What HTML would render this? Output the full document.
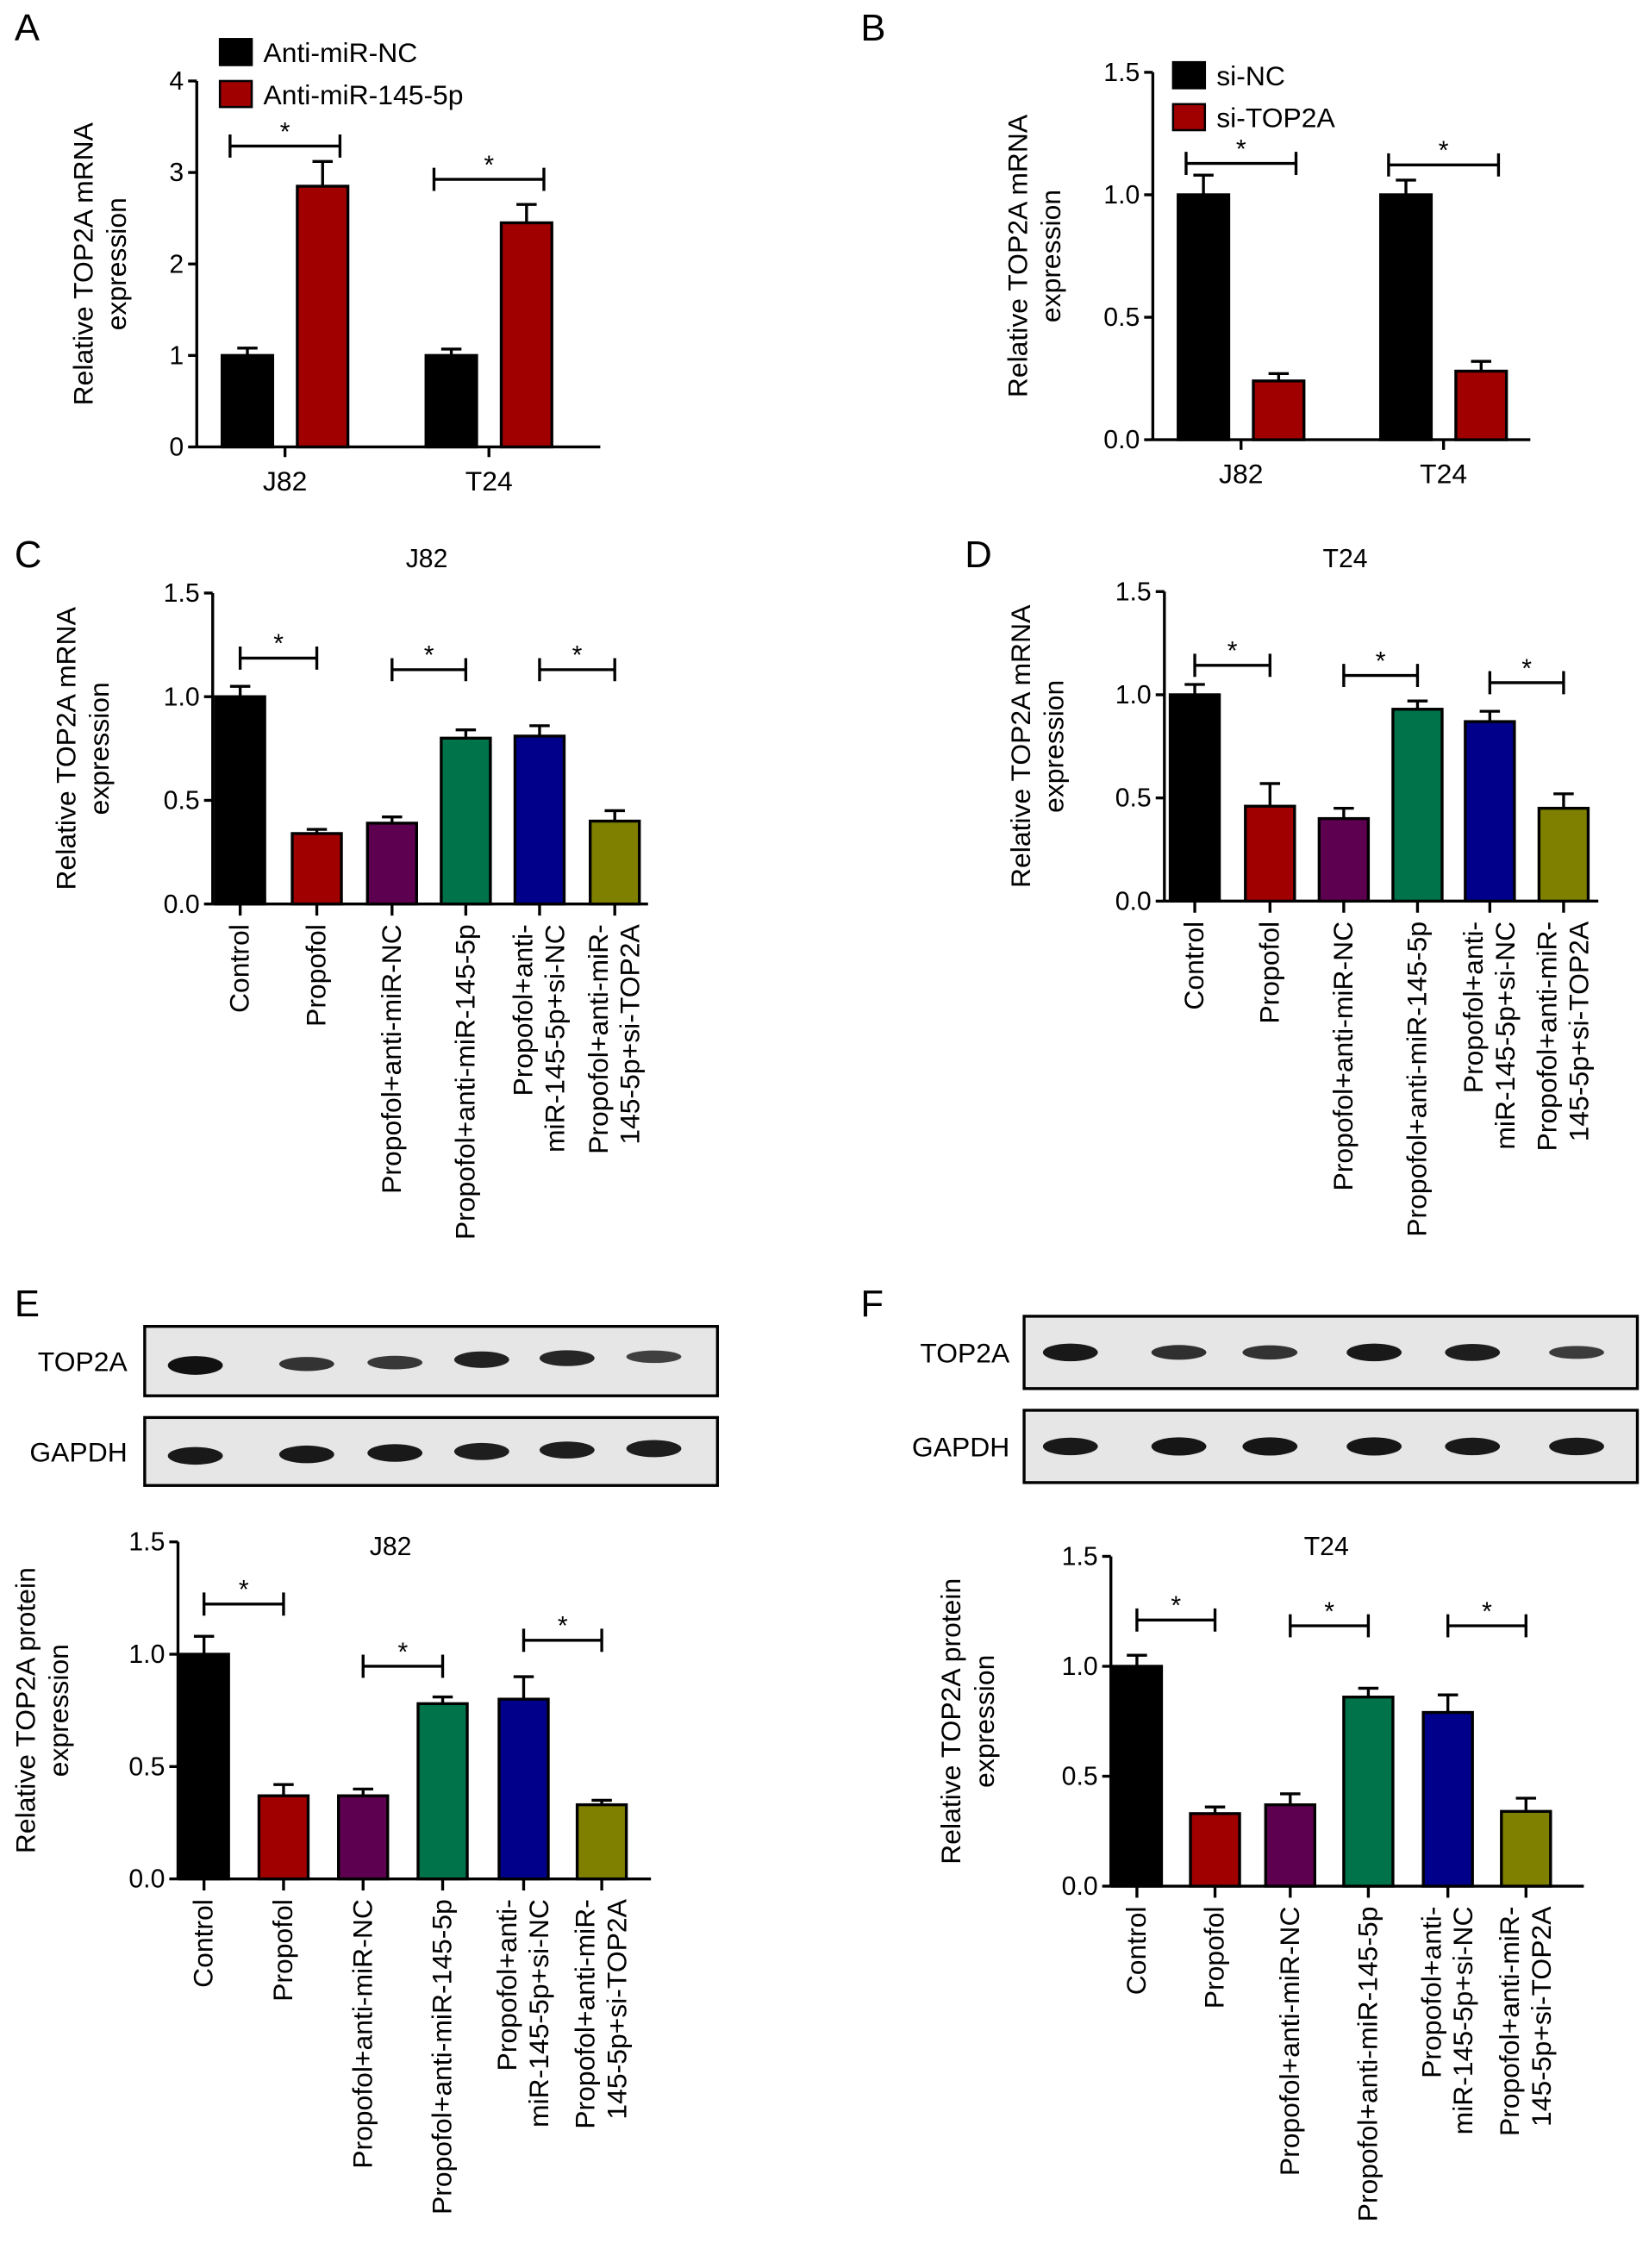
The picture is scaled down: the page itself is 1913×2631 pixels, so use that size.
<!DOCTYPE html>
<html><head><meta charset="utf-8"><style>
html,body{margin:0;padding:0;background:#fff}
svg{display:block;font-family:"Liberation Sans",Arial,sans-serif}
</style></head><body>
<svg id="fig" width="1913" height="2631" viewBox="0 0 1140 1568" xmlns="http://www.w3.org/2000/svg"></svg>
<script>
// ---- data ----
const catsAB = ["J82","T24"];
const aSeries = ["Anti-miR-NC","Anti-miR-145-5p"];
const aVals1 = [1.0,1.0], aVals2 = [2.85,2.45];
const aErr1 = [0.08,0.07], aErr2 = [0.27,0.2];
const aTicks = [0,1,2,3,4];
const bSeries = ["si-NC","si-TOP2A"];
const bVals1 = [1.0,1.0], bVals2 = [0.24,0.28];
const bErr1 = [0.08,0.06], bErr2 = [0.03,0.04];
const ticks15 = [0.0,0.5,1.0,1.5];
const groups = ["Control","Propofol","Propofol+anti-miR-NC","Propofol+anti-miR-145-5p","Propofol+anti-|miR-145-5p+si-NC","Propofol+anti-miR-|145-5p+si-TOP2A"];
const cVals = [1.0,0.34,0.39,0.80,0.81,0.40];
const cErr = [0.05,0.02,0.03,0.04,0.05,0.05];
const dVals = [1.0,0.46,0.40,0.93,0.87,0.45];
const dErr = [0.05,0.11,0.05,0.04,0.05,0.07];
const eVals = [1.0,0.37,0.37,0.78,0.80,0.33];
const eErr = [0.08,0.05,0.03,0.03,0.10,0.02];
const fVals = [1.0,0.33,0.37,0.86,0.79,0.34];
const fErr = [0.05,0.03,0.05,0.04,0.08,0.06];
const colors6 = ["#000000","#a00000","#5e0050","#00734a","#00008a","#7f7f00"];

const NS="http://www.w3.org/2000/svg";
const svg=document.getElementById('fig');
function el(tag,attrs,parent,txt){const e=document.createElementNS(NS,tag);for(const k in attrs)e.setAttribute(k,attrs[k]);if(txt!==undefined)e.textContent=txt;(parent||svg).appendChild(e);return e;}
function text(x,y,s,size,anchor,parent,rot){const t=el('text',{x:x,y:y,'font-size':size,'text-anchor':anchor||'middle',fill:'#000'},parent,s);if(rot)t.setAttribute('transform','rotate(-90 '+x+' '+y+')');return t;}

function axes(g,ax,y0,yTop,vmax,ticks,xEnd,fmt,ytitle,tx){
  const sy=v=>y0-(v/vmax)*(y0-yTop);
  const yl=el('line',{x1:ax,y1:y0,x2:ax,y2:yTop,stroke:'#000','stroke-width':2},g);
  
  const xl=el('line',{x1:ax,y1:y0,x2:xEnd,y2:y0,stroke:'#000','stroke-width':2},g);
  
  ticks.forEach(v=>{const y=sy(v);el('line',{x1:ax-6,y1:y,x2:ax,y2:y,stroke:'#000','stroke-width':2},g);
    const t=text(ax-9,y+6,fmt(v),18,'end',g);});
  const yt=el('text',{transform:'translate('+tx+','+((y0+yTop)/2)+') rotate(-90)','font-size':19,'text-anchor':'middle'},g);
  
  el('tspan',{x:0,dy:0},yt,ytitle);el('tspan',{x:0,dy:23},yt,'expression');
  return sy;
}
function bar(g,x,w,v,err,color,sy,y0,name){
  const r=el('rect',{x:x-w/2,y:sy(v),width:w,height:y0-sy(v),fill:color,stroke:'#000','stroke-width':2},g);
  
  const ye=sy(v+err);
  el('line',{x1:x,y1:sy(v),x2:x,y2:ye,stroke:'#000','stroke-width':2},g);
  el('line',{x1:x-7,y1:ye,x2:x+7,y2:ye,stroke:'#000','stroke-width':2},g);
}
function sig(g,x1,x2,y){
  el('path',{d:'M'+x1+' '+(y-8)+'V'+(y+8)+'M'+x1+' '+y+'H'+x2+'M'+x2+' '+(y-8)+'V'+(y+8),stroke:'#000','stroke-width':2,fill:'none'},g);
  const s=text((x1+x2)/2,y-4,'*',18,'middle',g);
}
function letter(x,y,s){const t=text(x,y,s,26,'start');}

function twoGroup(name,ax,y0,yTop,vmax,ticks,xEnd,fmt,centers,v1,v2,e1,e2,sigY,legX,legY,series,tx){
  const g=el('g',{});
  const sy=axes(g,ax,y0,yTop,vmax,ticks,xEnd,fmt,'Relative TOP2A mRNA',tx);
  centers.forEach((c,i)=>{
    bar(g,c-26,35,v1[i],e1[i],'#000',sy,y0,'bar-'+catsAB[i].toLowerCase()+'-control');
    bar(g,c+26,35,v2[i],e2[i],'#a00000',sy,y0,'bar-'+catsAB[i].toLowerCase()+'-treatment');
    el('line',{x1:c,y1:y0,x2:c,y2:y0+7,stroke:'#000','stroke-width':2},g);
    const t=text(c,y0+30,catsAB[i],19,'middle',g);
    sig(g,c-38,c+38,sigY[i]);
  });
  series.forEach((s,i)=>{
    const r=el('rect',{x:legX,y:legY+i*29-9,width:22,height:18,fill:i?'#a00000':'#000',stroke:'#000','stroke-width':1.5},g);
    
    const t=text(legX+30,legY+i*29+7,s,19,'start',g);
  });
}
letter(10,28,'A');letter(595,28,'B');
twoGroup('panel-a-chart',136,309,56,4,aTicks,415,v=>String(v),[197,338],aVals1,aVals2,aErr1,aErr2,[101,124],152,36,aSeries,64);
twoGroup('panel-b-chart',797,304,50,1.5,ticks15,1058,v=>v.toFixed(1),[858,998],bVals1,bVals2,bErr1,bErr2,[113,114],811,52,bSeries,710);

function sixGroup(name,ax,y0,yTop,xEnd,centers,vals,errs,sigs,title,titleX,titleY,ytitle,tx){
  const g=el('g',{});
  const sy=axes(g,ax,y0,yTop,1.5,ticks15,xEnd,v=>v.toFixed(1),ytitle,tx);
  const tt=text(titleX,titleY,title,18,'middle',g);
  centers.forEach((c,i)=>{
    bar(g,c,34,vals[i],errs[i],colors6[i],sy,y0,'bar-'+i);
    el('line',{x1:c,y1:y0,x2:c,y2:y0+8,stroke:'#000','stroke-width':2},g);
    const parts=groups[i].split('|');
    parts.forEach((p,j)=>{
      const x=c+6+(j-(parts.length-1)/2)*22;
      const t=text(x,y0+14,p,19,'end',g,true);
    });
  });
  sigs.forEach(s=>sig(g,centers[s[0]],centers[s[1]],s[2]));
}
letter(10,392,'C');letter(667,392,'D');
sixGroup('panel-c-chart',147,625,410,448,[166,219,271,322,373,425],cVals,cErr,[[0,1,455],[2,3,463],[4,5,463]],'J82',295,392,'Relative TOP2A mRNA',52);
sixGroup('panel-d-chart',805,623,409,1105,[826,878,929,980,1030,1081],dVals,dErr,[[0,1,460],[2,3,467],[4,5,472]],'T24',930,392,'Relative TOP2A mRNA',712);
letter(10,910,'E');letter(595,910,'F');
sixGroup('panel-e-chart',123,1299,1066,450,[141,196,251,306,362,416],eVals,eErr,[[0,1,1109],[2,3,1152],[4,5,1134]],'J82',270,1075,'Relative TOP2A protein',24);
sixGroup('panel-f-chart',768,1304,1076,1095,[786,840,892,946,1001,1055],fVals,fErr,[[0,1,1120],[2,3,1124],[4,5,1124]],'T24',917,1075,'Relative TOP2A protein',664);

const eBands=[1.0,0.6,0.55,0.8,0.75,0.45], eGap=[0.9,0.9,0.9,0.85,0.85,0.85];
const fBands=[0.9,0.65,0.6,0.9,0.85,0.5], fGap=[0.9,0.95,0.95,0.95,0.9,0.9];
function blot(name,x1,x2,y1,y2,label,lx,bandX,strengths,dy){
  const g=el('g',{});
  el('rect',{x:x1,y:y1,width:x2-x1,height:y2-y1,fill:'#e6e6e6',stroke:'#000','stroke-width':2},g);
  const t=text(lx,(y1+y2)/2+7,label,19,'end',g);
  bandX.forEach((x,i)=>{const s=strengths[i];
    el('ellipse',{cx:x,cy:(y1+y2)/2+(dy?dy[i]:0),rx:19,ry:2.5+4*s,fill:'#111',opacity:0.6+0.4*s},g);});
}
blot('blot-e-top2a',100,496,917,965,'TOP2A',88,[135,212,273,333,392,452],eBands,[3,2,1,-1,-2,-3]);
blot('blot-e-gapdh',100,496,980,1027,'GAPDH',88,[135,212,273,333,392,452],eGap,[3,2,1,0,-1,-2]);
blot('blot-f-top2a',708,1132,910,960,'TOP2A',698,[740,815,878,950,1018,1090],fBands,null);
blot('blot-f-gapdh',708,1132,975,1025,'GAPDH',698,[740,815,878,950,1018,1090],fGap,null);
</script>
</body></html>
